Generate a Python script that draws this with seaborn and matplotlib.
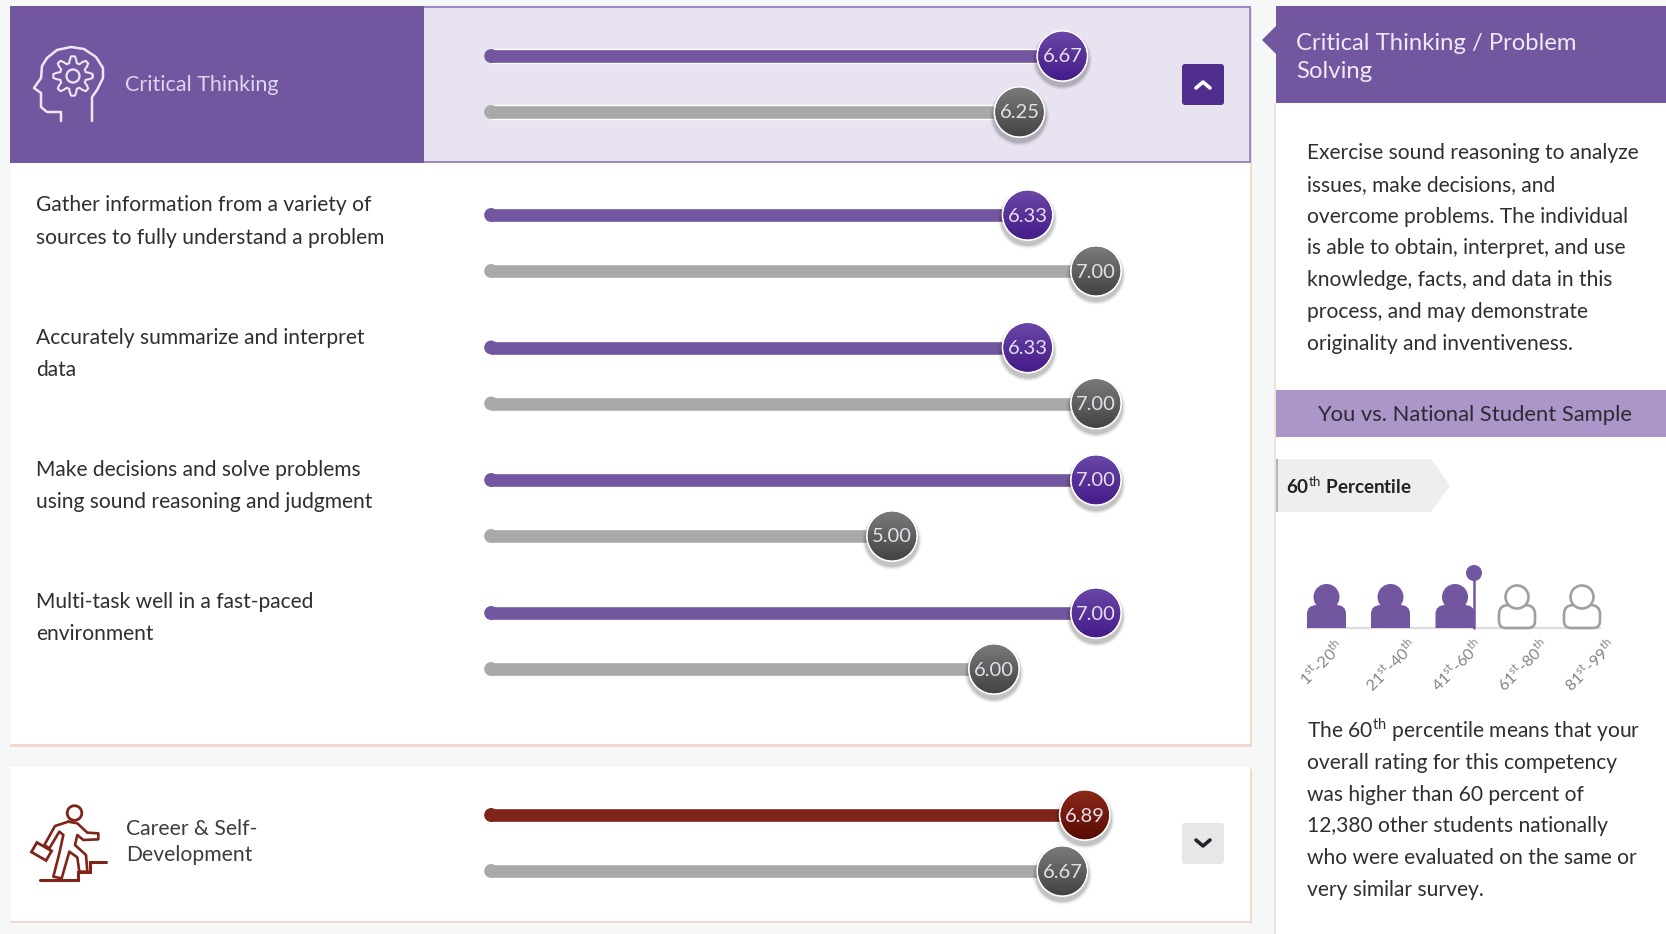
import numpy as np
import pandas as pd
import seaborn as sns
import matplotlib.pyplot as plt
from matplotlib.patches import Rectangle, Circle, Ellipse, Polygon, FancyBboxPatch, PathPatch
from matplotlib.path import Path

# values
competencies = ['Critical Thinking', 'Gather information', 'Accurately summarize',
                'Make decisions', 'Multi-task', 'Career & Self-Development']
you_scores = [6.67, 6.33, 6.33, 7.00, 7.00, 6.89]
sample_scores = [6.25, 7.00, 7.00, 5.00, 6.00, 6.67]
percentile_bands = ['1$^{\\mathrm{st}}$-20$^{\\mathrm{th}}$', '21$^{\\mathrm{st}}$-40$^{\\mathrm{th}}$',
                    '41$^{\\mathrm{st}}$-60$^{\\mathrm{th}}$', '61$^{\\mathrm{st}}$-80$^{\\mathrm{th}}$',
                    '81$^{\\mathrm{st}}$-99$^{\\mathrm{th}}$']
filled_bands = [True, True, True, False, False]

item_lines = [['Gather information from a variety of', 'sources to fully understand a problem'],
              ['Accurately summarize and interpret', 'data'],
              ['Make decisions and solve problems', 'using sound reasoning and judgment'],
              ['Multi-task well in a fast-paced', 'environment']]
definition_lines = ['Exercise sound reasoning to analyze', 'issues, make decisions, and',
                    'overcome problems. The individual', 'is able to obtain, interpret, and use',
                    'knowledge, facts, and data in this', 'process, and may demonstrate',
                    'originality and inventiveness.']
percentile_lines = ['The 60$^{\\mathrm{th}}$ percentile means that your', 'overall rating for this competency',
                    'was higher than 60 percent of', '12,380 other students nationally',
                    'who were evaluated on the same or', 'very similar survey.']

PURPLE = '#72569f'
GRAY_BAR = '#a9a9a9'
RED = '#7e2418'
DARK_TEXT = '#2e2e33'
W, H = 1666, 934

sns.set_theme(style='white')
plt.rcParams['font.family'] = ['Lato', 'DejaVu Sans']
plt.rcParams['mathtext.fontset'] = 'custom'
plt.rcParams['mathtext.rm'] = 'Lato'

fig = plt.figure(figsize=(W / 100, H / 100), dpi=100, facecolor='#f6f8f8')
bg = fig.add_axes([0, 0, 1, 1])
bg.set_xlim(0, W)
bg.set_ylim(H, 0)
bg.axis('off')


def box(x0, y0, x1, y1, color, **kw):
    bg.add_patch(Rectangle((x0, y0), x1 - x0, y1 - y0, facecolor=color, edgecolor='none', **kw))


def rounded(x0, y0, x1, y1, color):
    bg.add_patch(FancyBboxPatch((x0 + 3, y0 + 3), x1 - x0 - 6, y1 - y0 - 6, boxstyle='round,pad=3,rounding_size=3',
                                facecolor=color, edgecolor='none'))


def label(x, y, s, size=15.1, color=DARK_TEXT, **kw):
    bg.text(x, y + 2, s, fontsize=size, color=color, va='center', **kw)


# left panels
box(10, 8, 1252, 747, '#f1d9cd')
box(10, 6, 1250, 744, 'white')
box(10, 769, 1252, 923, '#f1d9cd')
box(10, 767, 1250, 921, 'white')

# selected band
box(424, 6, 1251, 162.5, '#9c88c4')
box(424, 8, 1249, 160.5, '#e8e2f1')
box(10, 6, 424, 162.5, PURPLE)
label(125, 83, 'Critical Thinking', size=15.5, color='#ddd5ea')

# head + gear icon
head_x = [92, 92, 97, 103, 103, 96, 84, 71, 57, 47, 42, 41, 34, 41, 41, 47, 61, 61]
head_y = [121, 97, 90, 78, 68, 57, 49, 47, 50, 58, 66, 78, 88, 93, 107, 112, 112, 121]
bg.plot(head_x, head_y, color='#ece8f3', lw=1.8, solid_joinstyle='round')
theta = np.linspace(0, 2 * np.pi, 65)
gear_r = 16.5 + 3.2 * np.clip(2.2 * np.cos(8 * theta), -1, 1)
bg.plot(73 + gear_r * np.cos(theta), 76 + gear_r * np.sin(theta), color='#ece8f3', lw=1.5)
bg.add_patch(Circle((73, 76), 6.5, facecolor='none', edgecolor='#ece8f3', lw=1.6))

# item labels
item_text_y = [(203, 235.5), (336, 368), (468.5, 500), (600, 632)]
for lines, ys in zip(item_lines, item_text_y):
    for line, y in zip(lines, ys):
        label(36, y, line)

# career row
label(126, 827, 'Career & Self-', size=15.2, color='#3c3c42')
label(126, 853, 'Development', size=15.2, color='#3c3c42')
bg.add_patch(Circle((74.5, 813), 7.3, facecolor='none', edgecolor=RED, lw=2))
runner_outline = [(205, 305), (165, 318), (133, 375), (148, 385), (178, 335), (190, 345), (178, 400), (160, 470),
                  (185, 475), (208, 395), (232, 412), (238, 455), (262, 455), (258, 405), (225, 375), (232, 345),
                  (250, 360), (295, 358), (295, 340), (262, 338), (232, 310), (205, 305)]
bg.plot([p[0] / 3 for p in runner_outline], [720 + p[1] / 3 for p in runner_outline], color=RED, lw=1.9,
        solid_joinstyle='round')
bg.plot([40, 78, 78, 90, 90, 106], [880, 880, 872, 872, 862, 862], color=RED, lw=2.2, solid_joinstyle='miter')
case = Rectangle((33, 846), 17, 11, facecolor='none', edgecolor=RED, lw=2)
case.set_transform(plt.matplotlib.transforms.Affine2D().rotate_deg_around(41.5, 851.5, 30) + bg.transData)
bg.add_patch(case)

# buttons
rounded(1182, 64, 1224, 105, '#4f2e8e')
bg.plot([1196, 1203, 1210], [88, 82, 88], color='white', lw=2.6, solid_capstyle='round')
rounded(1182, 823, 1224, 864, '#e7e7e7')
bg.plot([1196, 1203, 1210], [840, 846, 840], color='#22262c', lw=2.6, solid_capstyle='round')

# right panel
box(1274, 103, 1276, H, '#f1e3dc')
box(1276, 103, W, H, 'white')
box(1276, 6, W, 103, PURPLE)
bg.add_patch(Polygon([[1276, 26], [1262, 40], [1276, 54]], facecolor=PURPLE, edgecolor='none'))
label(1296, 41, 'Critical Thinking / Problem', size=17.2, color='#eeeaf4')
label(1296, 69, 'Solving', size=17.2, color='#eeeaf4')
for line, y in zip(definition_lines, [151, 183, 215, 246.5, 278.5, 310.5, 342]):
    label(1307, y, line)

box(1276, 390, W, 437, '#ac95c8')
label(1475, 413, 'You vs. National Student Sample', size=15.8, ha='center', color='#2b2b33')

bg.add_patch(Polygon([[1276, 459], [1431, 459], [1450, 485.5], [1431, 512], [1276, 512]],
                     facecolor='#eeeeee', edgecolor='none'))
box(1276, 459, 1278, 512, '#b5b5b5')
label(1286, 484, '60$^{\\mathrm{th}}$ Percentile', size=13.6, color='#222222', fontweight='bold')

# percentile people
people_x = [1326.5, 1390.5, 1455, 1517, 1582]
band_label_x = [1334, 1406, 1472, 1538, 1605]
base_y = 628
bg.plot([1307, 1600], [base_y, base_y], color='#dddddd', lw=1.6)


def body_path(cx, half, corner=0):
    verts = [(cx - half, base_y - corner), (cx - half, base_y - 14), (cx - half, base_y - 23), (cx - half + 10, base_y - 23),
             (cx + half - 10, base_y - 23), (cx + half, base_y - 23), (cx + half, base_y - 14),
             (cx + half, base_y - corner), (cx + half, base_y), (cx + half - corner, base_y),
             (cx - half + corner, base_y), (cx - half, base_y), (cx - half, base_y - corner), (cx - half, base_y - corner)]
    codes = [Path.MOVETO, Path.LINETO, Path.CURVE3, Path.CURVE3, Path.LINETO, Path.CURVE3, Path.CURVE3,
             Path.LINETO, Path.CURVE3, Path.CURVE3, Path.LINETO, Path.CURVE3, Path.CURVE3, Path.CLOSEPOLY]
    return Path(verts, codes)


for band, filled, cx, lx in zip(percentile_bands, filled_bands, people_x, band_label_x):
    if filled:
        bg.add_patch(PathPatch(body_path(cx, 19.5), facecolor=PURPLE, edgecolor='none', zorder=3))
        bg.add_patch(Circle((cx, 597), 13, facecolor=PURPLE, edgecolor='none', zorder=3))
    else:
        bg.add_patch(PathPatch(body_path(cx, 18, 7), facecolor='white', edgecolor='#a0a0a0', lw=1.9, zorder=3))
        bg.add_patch(Circle((cx, 597), 11.5, facecolor='white', edgecolor='#a0a0a0', lw=1.9, zorder=3))
    bg.text(lx, 635, band, rotation=45, rotation_mode='anchor', ha='right', va='top',
            fontsize=11.6, color='#858585')
bg.plot([1474, 1474], [573, base_y], color=PURPLE, lw=1.8, zorder=4)
bg.add_patch(Circle((1474, 573), 8, facecolor=PURPLE, edgecolor='none', zorder=4))

for line, y in zip(percentile_lines, [728, 761, 793, 824.5, 856, 887.5]):
    label(1307, y, line)

# score rows, each with the same 1-7 scale
row_tops = [28, 215, 347.5, 480, 613, 787]
row_colors = [PURPLE, PURPLE, PURPLE, PURPLE, PURPLE, RED]
marker_grads = [('#6a48a8', '#441b88')] * 5 + [('#8c2a1a', '#570b04')]
gray_grad = ('#7c7c7c', '#424242')
X_ONE, X_UNIT = 484, 102.0
X_START = 1.07   # axes start just right of 1 so the round cap begins at the scale's 1
ROW_GAP = 56

for i, name in enumerate(competencies):
    top = row_tops[i] if i in (0, 5) else row_tops[i] - ROW_GAP / 2
    left = X_ONE + (X_START - 1) * X_UNIT
    ax = fig.add_axes([left / W, 1 - (top + 2 * ROW_GAP) / H, (7.4 - X_START) * X_UNIT / W, 2 * ROW_GAP / H])
    ax.patch.set_alpha(0)
    df = pd.DataFrame({'group': ['You', 'Sample'], 'score': [you_scores[i], sample_scores[i]]})
    sns.barplot(data=df, x='score', y='group', hue='group', order=['You', 'Sample'], saturation=1,
                palette={'You': row_colors[i], 'Sample': GRAY_BAR}, width=14 / ROW_GAP, legend=False, ax=ax)
    ax.scatter([X_START, X_START], [0, 1], s=100, c=[row_colors[i], GRAY_BAR], linewidths=0, clip_on=False, zorder=2)

    rx, ry = 26 / X_UNIT, 26 / ROW_GAP
    for j, (value, grad) in enumerate(zip(df['score'], [marker_grads[i], gray_grad])):
        for grow, alpha in [(1.14, 0.05), (1.09, 0.08), (1.04, 0.12)]:
            ax.add_patch(Ellipse((value, j + 4 / ROW_GAP), 2 * rx * grow, 2 * ry * grow, facecolor='black',
                                 alpha=alpha, edgecolor='none', clip_on=False, zorder=3))
        ax.add_patch(Ellipse((value, j), 2 * rx, 2 * ry, facecolor='white', edgecolor='none', clip_on=False, zorder=4))
        disc = Ellipse((value, j), 2 * rx * 0.93, 2 * ry * 0.93, facecolor=grad[1], edgecolor='none', zorder=5, clip_on=False)
        ax.add_patch(disc)
        ramp = np.linspace(0, 1, 32).reshape(-1, 1)
        cmap = plt.matplotlib.colors.LinearSegmentedColormap.from_list('g', list(grad))
        img = ax.imshow(ramp, cmap=cmap, extent=(value - rx, value + rx, j + ry, j - ry), aspect='auto', zorder=6)
        img.set_clip_path(disc)
        ax.text(value, j + 1 / ROW_GAP, f'{value:.2f}', ha='center', va='center', fontsize=14.5, color='#e4e0ea', zorder=7)

    ax.set_xlim(X_START, 7.4)
    ax.set_ylim(1.5, -0.5)
    ax.axis('off')

fig.savefig('out.png', dpi=100, facecolor=fig.get_facecolor())
